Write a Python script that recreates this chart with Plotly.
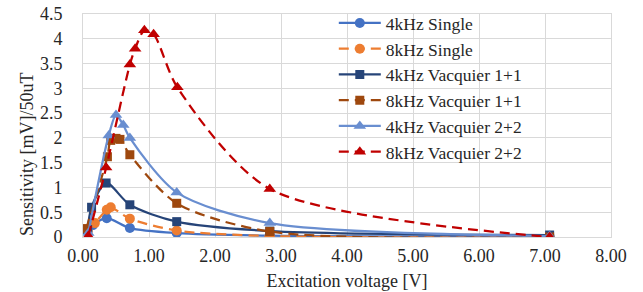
import plotly.graph_objects as go

# ---- data ----
x_4k_single = [0.07, 0.15, 0.36, 0.71, 1.42, 2.83, 7.07]
y_4k_single = [0.12, 0.24, 0.38, 0.18, 0.08, 0.03, 0.01]

x_8k_single = [0.07, 0.18, 0.36, 0.42, 0.71, 1.42, 2.83, 7.07]
y_8k_single = [0.12, 0.28, 0.55, 0.60, 0.37, 0.13, 0.02, -0.01]

x_4k_v11 = [0.07, 0.13, 0.35, 0.71, 1.42, 2.83, 7.07]
y_4k_v11 = [0.15, 0.60, 1.09, 0.65, 0.31, 0.12, 0.04]

x_8k_v11 = [0.05, 0.37, 0.42, 0.50, 0.56, 0.71, 1.42, 2.83, 7.07]
y_8k_v11 = [0.17, 1.62, 1.95, 1.99, 1.97, 1.66, 0.68, 0.11, 0.00]

x_4k_v22 = [0.08, 0.39, 0.50, 0.61, 0.71, 1.42, 2.83, 7.07]
y_4k_v22 = [0.08, 2.05, 2.46, 2.26, 2.00, 0.90, 0.28, 0.02]

x_8k_v22 = [0.08, 0.35, 0.71, 0.79, 0.93, 1.07, 1.43, 2.83, 7.07]
y_8k_v22 = [0.02, 1.40, 3.48, 3.80, 4.17, 4.09, 3.02, 0.97, 0.00]

series_names = ["4kHz Single", "8kHz Single", "4kHz Vacquier 1+1",
                "8kHz Vacquier 1+1", "4kHz Vacquier 2+2", "8kHz Vacquier 2+2"]

x_ticks = [0, 1, 2, 3, 4, 5, 6, 7, 8]
x_tick_labels = ["0.00", "1.00", "2.00", "3.00", "4.00", "5.00", "6.00", "7.00", "8.00"]
y_ticks = [0, 0.5, 1, 1.5, 2, 2.5, 3, 3.5, 4, 4.5]
y_tick_labels = ["0", "0.5", "1", "1.5", "2", "2.5", "3", "3.5", "4", "4.5"]

x_title = "Excitation voltage [V]"
y_title = "Sensitivity [mV]/50uT"

# ---- styles ----
DASH = "10px,6px"
styles = [
    dict(color="#4472C4", dash="solid", symbol="circle", size=10),
    dict(color="#ED7D31", dash=DASH, symbol="circle", size=10),
    dict(color="#264478", dash="solid", symbol="square", size=9),
    dict(color="#9E480E", dash=DASH, symbol="square", size=9),
    dict(color="#698ED0", dash="solid", symbol="triangle-up", size=11),
    dict(color="#C00000", dash=DASH, symbol="triangle-up", size=11),
]
xs = [x_4k_single, x_8k_single, x_4k_v11, x_8k_v11, x_4k_v22, x_8k_v22]
ys = [y_4k_single, y_8k_single, y_4k_v11, y_8k_v11, y_4k_v22, y_8k_v22]

fig = go.Figure()
for name, x, y, s in zip(series_names, xs, ys, styles):
    fig.add_trace(go.Scatter(
        x=x, y=y, name=name, mode="lines+markers",
        line=dict(color=s["color"], width=2.25, dash=s["dash"], shape="spline", smoothing=0.8),
        marker=dict(color=s["color"], symbol=s["symbol"], size=s["size"]),
    ))

font_family = '"Liberation Serif", "Times New Roman", serif'
text_color = "#262626"
fig.update_layout(
    width=643, height=292,
    margin=dict(l=83, r=32, t=14, b=55, autoexpand=False),
    paper_bgcolor="white", plot_bgcolor="white",
    font=dict(family=font_family, size=18, color=text_color),
    showlegend=True,
    legend=dict(x=0.475, y=1.04, xanchor="left", yanchor="top",
                bgcolor="rgba(0,0,0,0)", itemwidth=42, maxheight=400,
                font=dict(size=17.5, family=font_family, color=text_color),
                tracegroupgap=0),
    xaxis=dict(range=[0, 8], tickvals=x_ticks, ticktext=x_tick_labels,
               showgrid=True, gridcolor="#d9d9d9", gridwidth=1,
               showline=True, linecolor="#d9d9d9", linewidth=1, mirror=True,
               zeroline=False, ticks="", ticklabelstandoff=2, automargin=False,
               tickfont=dict(size=18, family=font_family, color=text_color),
               title=dict(text=x_title, standoff=9,
                          font=dict(size=18, family=font_family, color=text_color))),
    yaxis=dict(range=[0, 4.5], tickvals=y_ticks, ticktext=y_tick_labels,
               showgrid=True, gridcolor="#d9d9d9", gridwidth=1,
               showline=True, linecolor="#d9d9d9", linewidth=1, mirror=True,
               zeroline=False, ticks="", ticklabelstandoff=16, automargin=False,
               tickfont=dict(size=18, family=font_family, color=text_color)),
    annotations=[dict(text=y_title, textangle=-90, xref="paper", yref="paper",
                      x=-0.106, y=0.372, xanchor="center", yanchor="middle",
                      showarrow=False,
                      font=dict(size=18, family=font_family, color=text_color))],
)

# remove the browser's default 8px body margin so the figure fills the window
fig.write_html("out.html", config={"displayModeBar": False},
               post_script="document.body.style.margin='0';")
